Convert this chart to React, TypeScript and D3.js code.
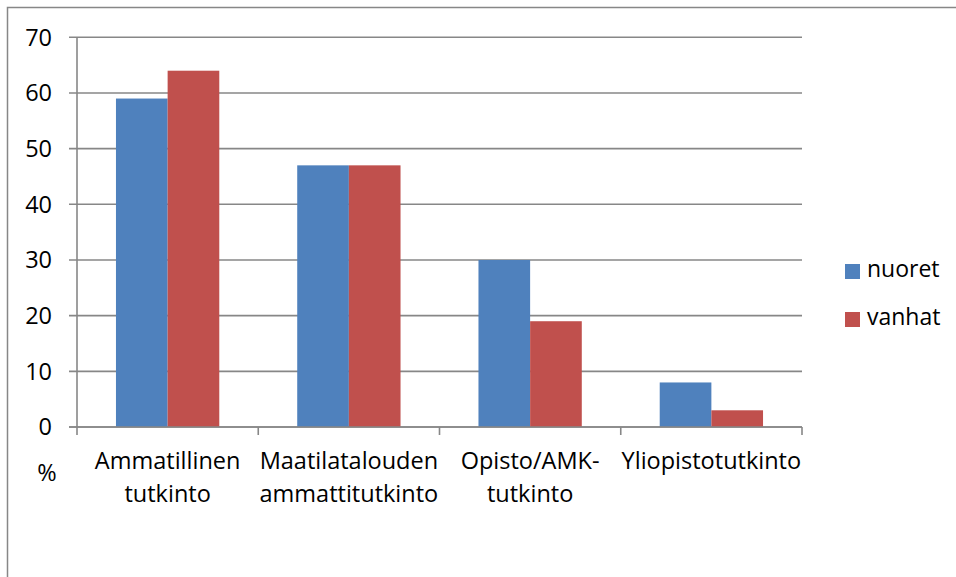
import * as React from "react";
import * as d3 from "d3";

const CATEGORIES: string[][] = [
  ["Ammatillinen", "tutkinto"],
  ["Maatilatalouden", "ammattitutkinto"],
  ["Opisto/AMK-", "tutkinto"],
  ["Yliopistotutkinto"],
];
const SERIES = ["nuoret", "vanhat"];
const NUORET = [59, 47, 30, 8];
const VANHAT = [64, 47, 19, 3];
const Y_TICKS = [0, 10, 20, 30, 40, 50, 60, 70];
const COLORS = ["#4F81BD", "#C0504D"];

const W = 956;
const H = 577;
const FONT = "'Open Sans', sans-serif";
const GRID = "#878787";

export default function App() {
  const [left, right, top, bottom] = [77, 802, 37.3, 427];
  const values = [NUORET, VANHAT];

  const x0 = d3
    .scaleBand<number>()
    .domain(CATEGORIES.map((d, i) => i))
    .range([left, right])
    .padding(0);
  const bw = x0.bandwidth();
  const gap = bw * 0.215;
  const x1 = d3
    .scaleBand<string>()
    .domain(SERIES)
    .range([gap, bw - gap])
    .padding(0);
  const y = d3.scaleLinear().domain([0, 70]).range([bottom, top]);

  return (
    <svg
      width={W}
      height={H}
      style={{ position: "absolute", left: 0, top: 0, background: "#fff" }}
      fontFamily={FONT}
    >
      {/* chart frame */}
      <rect x={7.5} y={7.5} width={W + 20} height={H + 20} fill="none" stroke={GRID} strokeWidth={1.5} />

      {/* gridlines + y ticks */}
      {Y_TICKS.map((t) => (
        <g key={t}>
          <line x1={left - 8} x2={right} y1={y(t)} y2={y(t)} stroke={GRID} strokeWidth={1.6} />
          <text x={52} y={y(t)} dy="0.35em" textAnchor="end" fontSize={23.5} fill="#000">
            {t}
          </text>
        </g>
      ))}

      {/* bars */}
      {CATEGORIES.map((c, i) =>
        SERIES.map((s, j) => (
          <rect
            key={`${i}-${s}`}
            x={(x0(i) ?? 0) + (x1(s) ?? 0)}
            y={y(values[j][i])}
            width={x1.bandwidth()}
            height={bottom - y(values[j][i])}
            fill={COLORS[j]}
          />
        ))
      )}

      {/* axes */}
      <line x1={left} x2={left} y1={top} y2={bottom} stroke={GRID} strokeWidth={1.6} />
      <line x1={left - 8} x2={right} y1={bottom} y2={bottom} stroke={GRID} strokeWidth={1.6} />
      {d3.range(CATEGORIES.length + 1).map((i) => (
        <line
          key={i}
          x1={left + i * bw}
          x2={left + i * bw}
          y1={bottom}
          y2={bottom + 8}
          stroke={GRID}
          strokeWidth={1.6}
        />
      ))}

      {/* category labels */}
      {CATEGORIES.map((lines, i) => (
        <text key={i} x={(x0(i) ?? 0) + bw / 2} y={469} textAnchor="middle" fontSize={23.5} fill="#000">
          {lines.map((l, k) => (
            <tspan key={k} x={(x0(i) ?? 0) + bw / 2} dy={k === 0 ? 0 : 33}>
              {l}
            </tspan>
          ))}
        </text>
      ))}

      <text x={47} y={481} textAnchor="middle" fontSize={23.5} fill="#000">
        %
      </text>

      {/* legend */}
      {SERIES.map((s, j) => (
        <g key={s} transform={`translate(845, ${264 + j * 48})`}>
          <rect width={15} height={15} fill={COLORS[j]} />
          <text x={22} y={13} fontSize={23} fill="#000">
            {s}
          </text>
        </g>
      ))}
    </svg>
  );
}
